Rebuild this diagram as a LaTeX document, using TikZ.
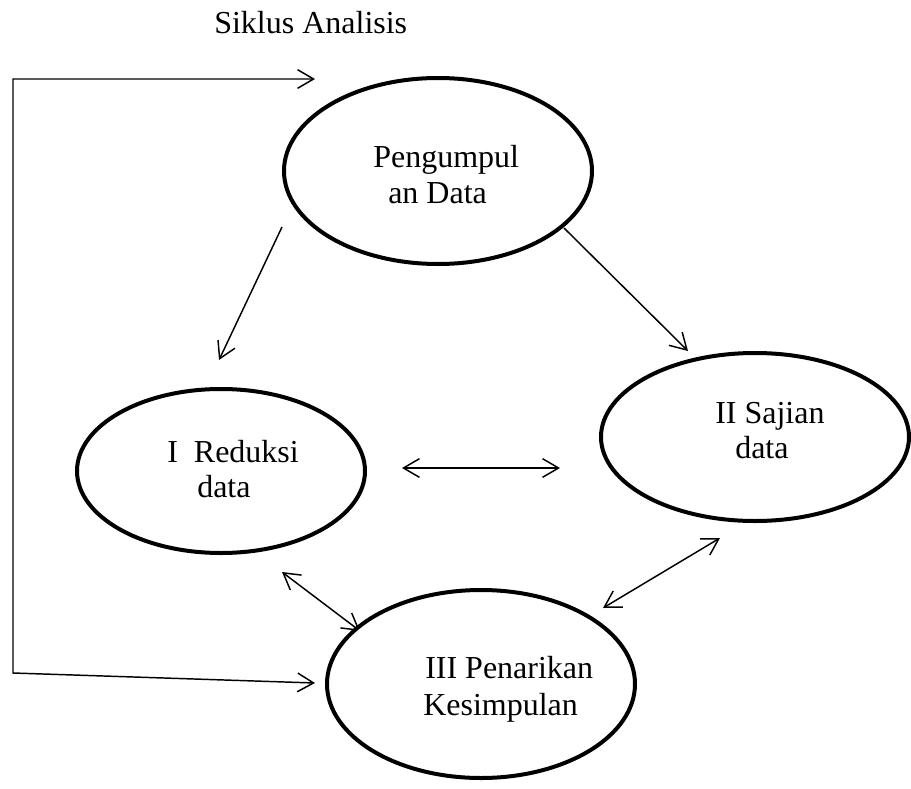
\documentclass[tikz,border=0pt]{standalone}
\usepackage{fontspec}
\setmainfont{Liberation Serif}
\usetikzlibrary{arrows.meta,shapes.geometric}
\begin{document}
\begin{tikzpicture}[x=0.75pt,y=-0.75pt,
  stage/.style={draw,line width=3pt,ellipse,fill=white,inner sep=0pt},
  txt/.style={anchor=base west,inner sep=0pt,font=\fontsize{24}{27}\selectfont},
  conn/.style={line width=1.1pt,{Straight Barb[length=12pt,width=14pt,line width=1.1pt]}-{Straight Barb[length=12pt,width=14pt,line width=1.1pt]}},
  oneway/.style={line width=1.1pt,-{Straight Barb[length=12pt,width=14pt,line width=1.1pt]}}]
\useasboundingbox (0,0) rectangle (911,789);
% connector points
\coordinate (lt) at (315,79);
\coordinate (c1) at (13,79);
\coordinate (c2) at (13,673);
\coordinate (lb) at (315,683);
\coordinate (p1) at (282,227);
\coordinate (r1) at (219,360);
\coordinate (p2) at (564,228);
\coordinate (s1) at (688,351);
\coordinate (r2) at (402,468);
\coordinate (s2) at (560,468);
\coordinate (r3) at (282,572);
\coordinate (k1) at (360,631);
\coordinate (s3) at (720,538);
\coordinate (k2) at (603,608);
% connectors
\draw[conn] (lt) -- (c1) -- (c2) -- (lb);
\draw[oneway] (p1) -- (r1);
\draw[oneway] (p2) -- (s1);
\draw[conn] (r2) -- (s2);
\draw[conn] (r3) -- (k1);
\draw[conn] (s3) -- (k2);
% ellipses
\node[stage,minimum width=231pt,minimum height=139.5pt] (peng) at (438,171) {};
\node[stage,minimum width=216pt,minimum height=123pt] (redu) at (221,471) {};
\node[stage,minimum width=231pt,minimum height=126pt] (saji) at (755,437) {};
\node[stage,minimum width=231pt,minimum height=141pt] (pena) at (481,684) {};
% texts
\node[txt] (title) at (214,33) {Siklus Analisis};
\node[txt] (pengA) at (373,167) {Pengumpul};
\node[txt] (pengB) at (388,203) {an Data};
\node[txt] (reduA) at (167,462) {I\ \ Reduksi};
\node[txt] (reduB) at (197,497) {data};
\node[txt] (sajiA) at (715,423) {II Sajian};
\node[txt] (sajiB) at (735,458) {data};
\node[txt] (penaA) at (425,678) {III Penarikan};
\node[txt] (penaB) at (423,715) {Kesimpulan};
\end{tikzpicture}
\end{document}
